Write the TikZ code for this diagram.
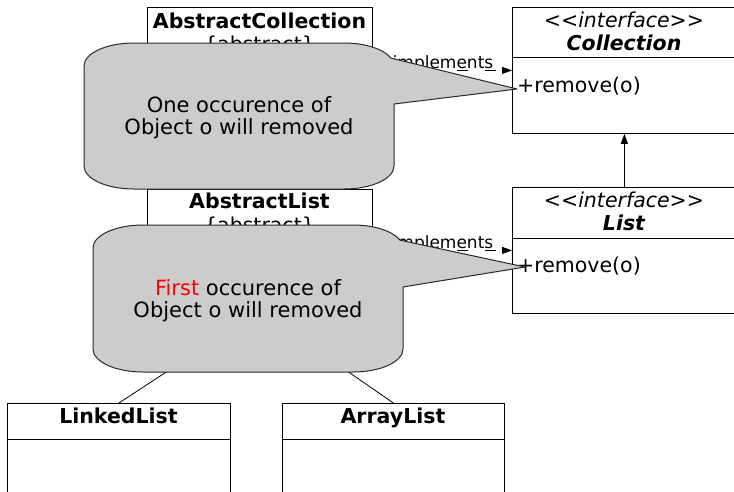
\documentclass[tikz,border=0pt]{standalone}
\usepackage{fontspec}
\setmainfont{DejaVu Sans}[BoldFont={DejaVu Sans Bold},ItalicFont={DejaVu Sans Oblique},BoldItalicFont={DejaVu Sans Bold Oblique}]
\usetikzlibrary{arrows.meta}
\definecolor{calloutfill}{HTML}{CCCCCC}
\definecolor{calloutline}{HTML}{2A2A2A}
\begin{document}
\begin{tikzpicture}[x=1pt,y=-1pt,
  classbox/.style={draw=black,line width=0.8pt,fill=white,inner sep=0pt,anchor=north west},
  txt/.style={inner sep=0pt,anchor=base,font=\fontsize{20.5}{23}\selectfont},
  ctxt/.style={inner sep=0pt,anchor=base,font=\fontsize{21}{23}\selectfont},
  boldtxt/.style={inner sep=0pt,anchor=base,font=\fontsize{20.5}{23}\selectfont\bfseries},
  italtxt/.style={inner sep=0pt,anchor=base,font=\fontsize{20.5}{23}\selectfont\itshape},
  bitaltxt/.style={inner sep=0pt,anchor=base,font=\fontsize{20.5}{23}\selectfont\bfseries\itshape},
  lbl/.style={inner sep=0pt,anchor=base,font=\fontsize{17}{20}\selectfont},
  impl/.style={line width=0.8pt,dash pattern=on 11pt off 17pt,-{Triangle[length=10pt,width=7pt]}},
  gen/.style={line width=0.8pt,-{Triangle[length=10pt,width=7pt]}},
  assoc/.style={line width=0.8pt},
  divider/.style={line width=0.8pt},
  callout/.style={fill=calloutfill,draw=calloutline,line width=1pt,line join=round}
]
\clip (0,0) rectangle (734,491);
\fill[white] (0,0) rectangle (734,491);

% class boxes
\node[classbox,minimum width=225,minimum height=140] (acol) at (147,7) {};
\node[classbox,minimum width=225,minimum height=121] (alist) at (147,189) {};
\node[classbox,minimum width=224,minimum height=126] (coll) at (512,7) {};
\node[classbox,minimum width=224,minimum height=126] (list) at (512,187) {};
\node[classbox,minimum width=223,minimum height=120] (llist) at (7,403) {};
\node[classbox,minimum width=222,minimum height=120] (alst) at (282,403) {};

% dividers
\draw[divider] (coll.west |- 0,57) -- (coll.east |- 0,57);
\draw[divider] (list.west |- 0,238) -- (list.east |- 0,238);
\draw[divider] (llist.west |- 0,439) -- (llist.east |- 0,439);
\draw[divider] (alst.west |- 0,439) -- (alst.east |- 0,439);

% texts in boxes
\node[boldtxt] at (259.5,28) {AbstractCollection};
\node[txt] at (259.5,51) {\{abstract\}};
\node[boldtxt] at (259.5,208) {AbstractList};
\node[txt] at (259.5,232) {\{abstract\}};
\node[italtxt] at (624,27) {<\kern0pt<interface>\kern0pt>};
\node[bitaltxt] at (624,50) {Collection};
\node[txt,anchor=base west] at (517,92) {+remove(o)};
\node[italtxt] at (624,207) {<\kern0pt<interface>\kern0pt>};
\node[bitaltxt] at (624,230) {List};
\node[txt,anchor=base west] at (517,272) {+remove(o)};
\node[boldtxt] at (118.5,423) {LinkedList};
\node[boldtxt] at (393,423) {ArrayList};

% connectors
\draw[impl] (acol.east |- coll.west) -- (coll.west);
\draw[impl] (alist.east |- list.west) -- (list.west);
\node[lbl] at (443,68) {implements};
\node[lbl] at (443,248) {implements};
\draw[gen] (list.north) -- (coll.south);
\draw[assoc] (llist.north) -- (alist.south);
\draw[assoc] (alst.north) -- (alist.south);

% callouts
\path[callout] (84,66) arc[start angle=180,end angle=90,x radius=50pt,y radius=23pt]
  -- (344,43) arc[start angle=90,end angle=20,x radius=50pt,y radius=23pt]
  -- (517,89) -- (394,104) -- (394,166)
  arc[start angle=0,end angle=-90,x radius=50pt,y radius=23pt]
  -- (134,189) arc[start angle=-90,end angle=-180,x radius=50pt,y radius=23pt] -- cycle;
\node[ctxt] at (239,112) {One occurence of};
\node[ctxt] at (239,134) {Object o will removed};

\path[callout] (93,248) arc[start angle=180,end angle=90,x radius=50pt,y radius=23pt]
  -- (353,225) arc[start angle=90,end angle=20,x radius=50pt,y radius=23pt]
  -- (525,267) -- (403,287) -- (403,349)
  arc[start angle=0,end angle=-90,x radius=50pt,y radius=23pt]
  -- (143,372) arc[start angle=-90,end angle=-180,x radius=50pt,y radius=23pt] -- cycle;
\node[ctxt] at (248,295) {\textcolor{red}{First} occurence of};
\node[ctxt] at (248,317) {Object o will removed};
\end{tikzpicture}
\end{document}
